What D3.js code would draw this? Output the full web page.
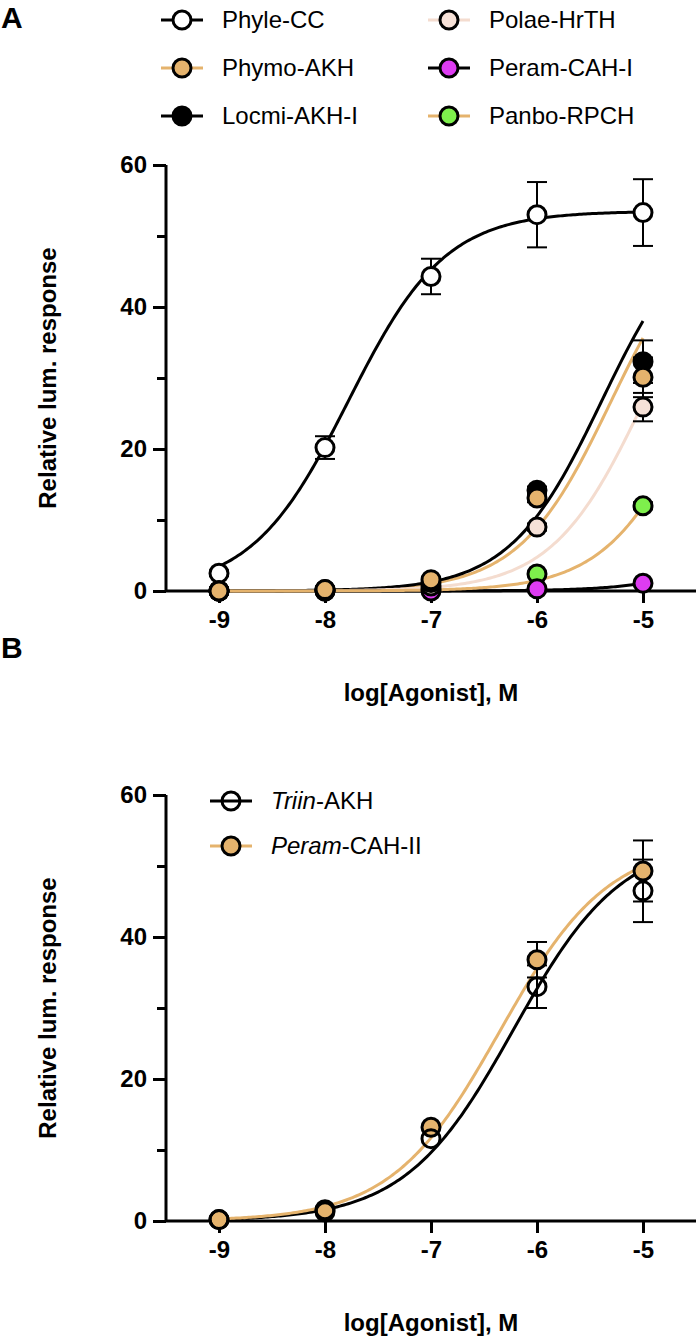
<!DOCTYPE html>
<html>
<head>
<meta charset="utf-8">
<script src="https://cdn.jsdelivr.net/npm/d3@7"></script>
<style>
  body { margin: 0; background: #fff; }
  text { font-family: "Liberation Sans", Arial, sans-serif; }
</style>
</head>
<body>
<div id="chart"></div>
<script>
var width = 697;
var height = 1338;

// log concentrations and axis ticks
var doses = [-9, -8, -7, -6, -5];
var xTicks = [-9, -8, -7, -6, -5];
var yTicks = [0, 20, 40, 60];
var yMinor = [10, 30, 50];

// panel A
var namesA = ["Phyle-CC", "Phymo-AKH", "Locmi-AKH-I", "Polae-HrTH", "Peram-CAH-I", "Panbo-RPCH"];
var phyleCC = [2.5, 20.2, 44.3, 53.0, 53.3];
var phyleCCErr = [0.4, 1.6, 2.5, 4.6, 4.7];
var phymoAKH = [0, 0.2, 1.6, 13.1, 30.1];
var phymoAKHErr = [0, 0, 0, 0.6, 2.8];
var locmiAKH = [0, 0.2, 1.2, 14.2, 32.3];
var locmiAKHErr = [0, 0, 0, 0.5, 3.0];
var polaeHrTH = [0, 0.1, 0.7, 9.0, 25.9];
var polaeHrTHErr = [0, 0, 0, 0.5, 2.0];
var peramCAH1 = [0, 0, 0, 0.3, 1.1];
var peramCAH1Err = [0, 0, 0, 0, 0.2];
var panboRPCH = [0, 0, 0.3, 2.4, 12.0];
var panboRPCHErr = [0, 0, 0, 0.3, 0.5];
// fitted curves: [logEC50, top, hill]
var fitA = [[-7.78, 53.5, 0.95], [-5.30, 53.5, 1], [-5.39, 53.5, 1], [-4.99, 53.5, 1], [-3.32, 53.5, 1], [-4.46, 53.5, 1]];

// panel B
var namesB = ["Triin", "Peram"];
var triinAKH = [0.2, 1.6, 11.6, 33.0, 46.5];
var triinAKHErr = [0, 0.2, 0, 3.0, 4.4];
var peramCAH2 = [0.2, 1.3, 13.2, 36.8, 49.3];
var peramCAH2Err = [0, 0.2, 0, 2.5, 4.3];
var fitB = [[-6.22, 54, 0.85], [-6.35, 53.5, 0.85]];

var tan = "#e5b36d";
var pinkLine = "#f4dccf";

var svg = d3.select("#chart").append("svg")
  .attr("width", width)
  .attr("height", height);

var x = d3.scaleLinear().domain([-9.5, -4.5]).range([166, 696]);

function sigmoid(p) {
  return function(v) { return p[1] / (1 + Math.pow(10, (p[0] - v) * p[2])); };
}

function drawPanel(top, letter, series) {
  var y = d3.scaleLinear().domain([0, 60]).range([top + 426, top]);
  var g = svg.append("g");

  svg.append("text").attr("x", 1).attr("y", top - 137).text(letter)
    .attr("font-size", 30).attr("font-weight", "bold");

  // axes
  var yAxis = g.append("g").attr("transform", "translate(166,0)")
    .call(d3.axisLeft(y).tickValues(yTicks).tickSize(13).tickPadding(6));
  g.append("g").attr("transform", "translate(166,0)")
    .call(d3.axisLeft(y).tickValues(yMinor).tickSize(9).tickFormat(""))
    .select(".domain").remove();
  var xAxis = g.append("g").attr("transform", "translate(0," + y(0) + ")")
    .call(d3.axisBottom(x).tickValues(xTicks).tickSize(12).tickPadding(8).tickSizeOuter(0)
      .tickFormat(function(d) { return String(d); }));
  g.selectAll(".domain").attr("stroke-width", 3).attr("stroke", "#000");
  g.selectAll(".tick line").attr("stroke-width", 3).attr("stroke", "#000");
  g.selectAll(".tick text").attr("font-size", 24).attr("font-weight", "bold")
    .attr("fill", "#000").attr("font-family", "Liberation Sans, Arial, sans-serif");
  yAxis.select(".domain").attr("d", "M0," + y(60) + "V" + y(0));
  xAxis.select(".domain").attr("d", "M166,0H696");

  g.append("text")
    .attr("transform", "translate(56," + y(30) + ") rotate(-90)")
    .attr("text-anchor", "middle").attr("font-size", 24).attr("font-weight", "bold")
    .text("Relative lum. response");
  g.append("text").attr("x", 431).attr("y", y(0) + 110)
    .attr("text-anchor", "middle").attr("font-size", 24).attr("font-weight", "bold")
    .text("log[Agonist], M");

  // fitted curves
  var line = d3.line().x(function(d) { return x(d[0]); }).y(function(d) { return y(d[1]); });
  series.forEach(function(s) {
    var f = sigmoid(s.fit);
    var pts = d3.range(-9, -4.999, 0.02).map(function(v) { return [v, f(v)]; });
    g.append("path").datum(pts).attr("d", line)
      .attr("fill", "none").attr("stroke", s.line).attr("stroke-width", 3);
  });

  // error bars
  series.forEach(function(s) {
    s.values.forEach(function(v, i) {
      var e = s.err[i];
      if (!e) return;
      var cx = x(doses[i]);
      var eg = g.append("g").attr("stroke", "#000").attr("stroke-width", 2);
      eg.append("line").attr("x1", cx).attr("x2", cx).attr("y1", y(v - e)).attr("y2", y(v + e));
      eg.append("line").attr("x1", cx - 10).attr("x2", cx + 10).attr("y1", y(v - e)).attr("y2", y(v - e));
      eg.append("line").attr("x1", cx - 10).attr("x2", cx + 10).attr("y1", y(v + e)).attr("y2", y(v + e));
    });
  });

  // points
  series.slice().sort(function(a, b) { return a.order - b.order; }).forEach(function(s) {
    g.selectAll(null).data(s.values).enter().append("circle")
      .attr("cx", function(d, i) { return x(doses[i]); })
      .attr("cy", function(d) { return y(d); })
      .attr("r", 9)
      .attr("fill", s.fill).attr("stroke", "#000").attr("stroke-width", 3);
  });
}

function legendItem(cx, cy, s, label) {
  svg.append("line").attr("x1", cx - 21).attr("x2", cx + 21).attr("y1", cy).attr("y2", cy)
    .attr("stroke", s.line).attr("stroke-width", 3);
  svg.append("circle").attr("cx", cx).attr("cy", cy).attr("r", 9)
    .attr("fill", s.fill).attr("stroke", "#000").attr("stroke-width", 3);
  var t = svg.append("text").attr("x", cx + 40).attr("y", cy + 8).attr("font-size", 24);
  if (typeof label === "string") {
    t.text(label);
  } else {
    t.append("tspan").attr("font-style", "italic").text(label[0]);
    t.append("tspan").text(label[1]);
  }
}

var seriesA = [
  { values: phyleCC, err: phyleCCErr, fit: fitA[0], fill: "#fff", line: "#000", order: 0 },
  { values: phymoAKH, err: phymoAKHErr, fit: fitA[1], fill: tan, line: tan, order: 5 },
  { values: locmiAKH, err: locmiAKHErr, fit: fitA[2], fill: "#000", line: "#000", order: 4 },
  { values: polaeHrTH, err: polaeHrTHErr, fit: fitA[3], fill: "#f6e1d7", line: pinkLine, order: 3 },
  { values: peramCAH1, err: peramCAH1Err, fit: fitA[4], fill: "#de3cf2", line: "#000", order: 2 },
  { values: panboRPCH, err: panboRPCHErr, fit: fitA[5], fill: "#7ef04c", line: tan, order: 1 }
];
var seriesB = [
  { values: triinAKH, err: triinAKHErr, fit: fitB[0], fill: "none", line: "#000", order: 1 },
  { values: peramCAH2, err: peramCAH2Err, fit: fitB[1], fill: tan, line: tan, order: 0 }
];

drawPanel(165, "A", seriesA);
drawPanel(795, "B", seriesB);

// legends
var colX = [182, 449];
var rowY = [20, 68, 116];
seriesA.forEach(function(s, i) {
  legendItem(colX[Math.floor(i / 3)], rowY[i % 3], s, namesA[i]);
});
legendItem(231, 801, seriesB[0], [namesB[0], "-AKH"]);
legendItem(231, 846, seriesB[1], [namesB[1], "-CAH-II"]);
</script>
</body>
</html>
